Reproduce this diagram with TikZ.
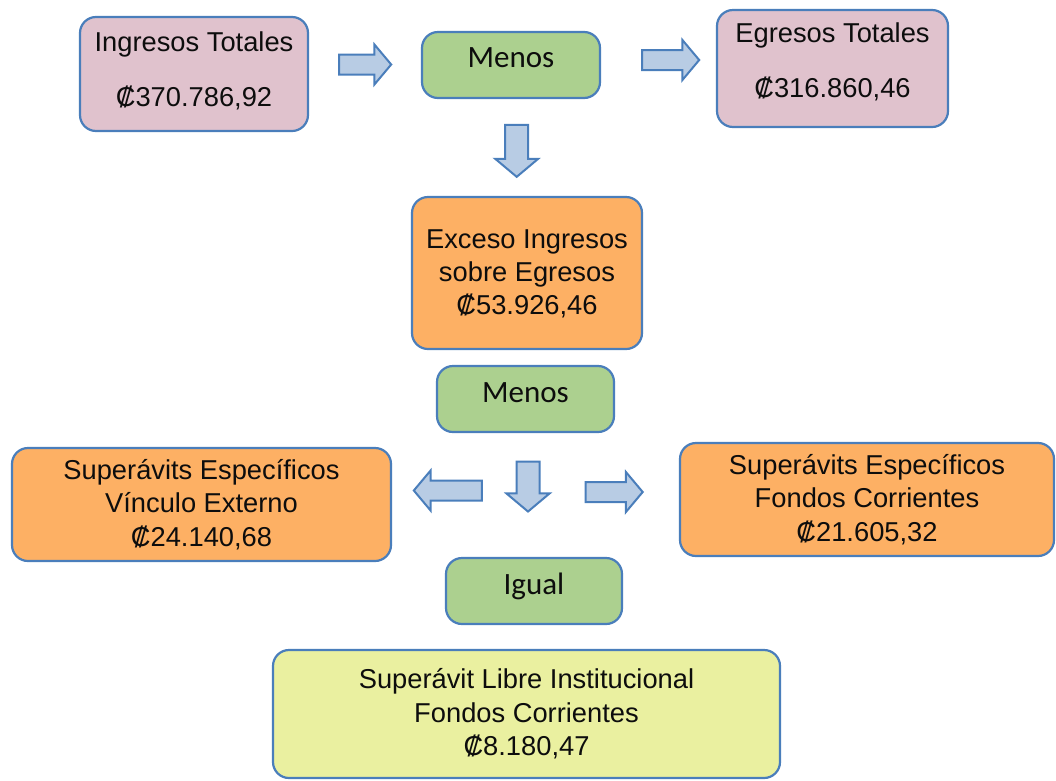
\documentclass[tikz,border=0pt]{standalone}
\usepackage{fontspec}
\setmainfont{Liberation Sans}
\newfontfamily\calibrifont{Carlito}
\usetikzlibrary{shapes.arrows}
\definecolor{bordblue}{HTML}{4A7EBB}
\definecolor{arrfill}{HTML}{B8CCE4}
\definecolor{pinkbox}{HTML}{E0C2CD}
\definecolor{greenbox}{HTML}{ACD08F}
\definecolor{orangebox}{HTML}{FDB064}
\definecolor{yellowbox}{HTML}{EAF0A0}
\tikzset{
  box/.style={draw=bordblue, line width=2.2pt, rounded corners=16pt, align=center,
    inner sep=0pt, font=\fontsize{27.3}{33.4}\selectfont, text=black!95},
  pinkb/.style={box, fill=pinkbox},
  greenb/.style={box, fill=greenbox, font=\calibrifont\fontsize{31}{36}\selectfont},
  orangeb/.style={box, fill=orangebox},
  yellowb/.style={box, fill=yellowbox},
  barrow/.style={single arrow, draw=bordblue, fill=arrfill, line width=2pt,
    inner sep=0pt, inner ysep=9pt, single arrow head extend=10pt,
    single arrow tip angle=100},
  barrowv/.style={barrow, inner ysep=10.5pt}
}
\begin{document}
\begin{tikzpicture}[x=1pt,y=-1pt]
\useasboundingbox (0,0) rectangle (1056,780);
% boxes
\node[pinkb, minimum width=228pt, minimum height=114pt, text depth=9.4pt] (ing) at (194,74)
  {Ingresos Totales\\[21.4pt]₡370.786,92};
\node[greenb, minimum width=178pt, minimum height=66pt, text depth=14pt] (menos1) at (511,65) {Menos};
\node[pinkb, minimum width=231pt, minimum height=117pt, text depth=16.4pt] (egr) at (832.5,68.5)
  {Egresos Totales\\[21.4pt]₡316.860,46};
\node[orangeb, minimum width=230pt, minimum height=152pt, text depth=2pt] (exc) at (527,273)
  {Exceso Ingresos\\sobre Egresos\\₡53.926,46};
\node[greenb, minimum width=177pt, minimum height=66pt, text depth=12pt] (menos2) at (525.5,399) {Menos};
\node[orangeb, minimum width=379pt, minimum height=113pt] (vinc) at (201.5,504.5)
  {Superávits Específicos\\Vínculo Externo\\₡24.140,68};
\node[orangeb, minimum width=374pt, minimum height=113pt] (fond) at (867,499.5)
  {Superávits Específicos\\Fondos Corrientes\\₡21.605,32};
\node[greenb, minimum width=176pt, minimum height=66pt, text depth=14pt] (igual) at (534,591) {Igual};
\node[yellowb, minimum width=507pt, minimum height=128pt] (libre) at (526.5,714)
  {Superávit Libre Institucional\\Fondos Corrientes\\₡8.180,47};
% block arrows
\node[barrow, minimum height=52pt] (a1) at (361,64.5) {};
\node[barrow, minimum height=57pt] (a2) at (666.5,60) {};
\node[barrowv, minimum height=52pt, rotate=-90] (a3) at (516.7,146) {};
\node[barrow, minimum height=68pt, rotate=180] (a4) at (452,490.5) {};
\node[barrowv, minimum height=50pt, rotate=-90] (a5) at (528,481.7) {};
\node[barrow, minimum height=57pt] (a6) at (610,492) {};
\end{tikzpicture}
\end{document}
